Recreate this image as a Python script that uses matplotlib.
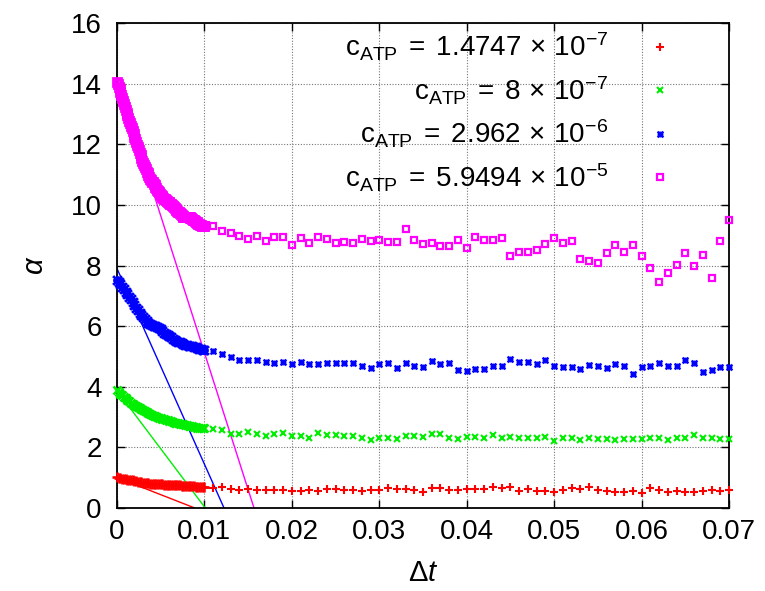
import numpy as np
import matplotlib
matplotlib.use("Agg")
import matplotlib.pyplot as plt
from matplotlib.path import Path

plt.rcParams['font.family'] = ['Liberation Sans', 'DejaVu Sans']
plt.rcParams['mathtext.fontset'] = 'custom'
plt.rcParams['mathtext.rm'] = 'Liberation Sans'
plt.rcParams['mathtext.it'] = 'Liberation Sans:italic'

# ---- data ----
labels = [r"$\mathregular{c_{ATP}\;=\;1.4747\,\times\,10^{-7}}$",
          r"$\mathregular{c_{ATP}\;=\;8\,\times\,10^{-7}}$",
          r"$\mathregular{c_{ATP}\;=\;2.962\,\times\,10^{-6}}$",
          r"$\mathregular{c_{ATP}\;=\;5.9494\,\times\,10^{-5}}$"]
colors = ['#ff0000', '#00ee00', '#0000ff', '#ff00ff']

dt_dense = np.linspace(0.0, 0.010, 51)
dt_dense_fine = np.linspace(0.0, 0.010, 101)
dt_sparse = np.linspace(0.011, 0.070, 60)

red_dense = [1.01, 1.00, 0.99, 0.97, 0.96, 0.95, 0.94, 0.93, 0.92, 0.91,
             0.90, 0.89, 0.87, 0.86, 0.85, 0.84, 0.83, 0.82, 0.81, 0.80,
             0.79, 0.80, 0.79, 0.78, 0.79, 0.79, 0.78, 0.77, 0.77, 0.76,
             0.76, 0.77, 0.76, 0.76, 0.75, 0.76, 0.75, 0.74, 0.74, 0.73,
             0.73, 0.72, 0.72, 0.71, 0.71, 0.70, 0.70, 0.69, 0.69, 0.68, 0.68]
green_dense = [3.89, 3.83, 3.77, 3.72, 3.67, 3.62, 3.57, 3.53, 3.48, 3.44,
               3.40, 3.37, 3.33, 3.30, 3.26, 3.23, 3.20, 3.17, 3.13, 3.10,
               3.07, 3.05, 3.03, 3.00, 2.98, 2.96, 2.94, 2.93, 2.91, 2.90,
               2.88, 2.86, 2.84, 2.82, 2.81, 2.79, 2.78, 2.77, 2.76, 2.75,
               2.74, 2.72, 2.70, 2.69, 2.67, 2.66, 2.65, 2.64, 2.64, 2.63, 2.63]
blue_dense = [7.52, 7.46, 7.38, 7.30, 7.22, 7.14, 7.05, 6.96, 6.88, 6.79,
              6.70, 6.61, 6.52, 6.44, 6.36, 6.29, 6.22, 6.16, 6.11, 6.07,
              6.04, 6.02, 5.99, 5.96, 5.93, 5.89, 5.84, 5.78, 5.73, 5.70,
              5.67, 5.63, 5.59, 5.55, 5.52, 5.49, 5.46, 5.43, 5.41, 5.39,
              5.38, 5.36, 5.35, 5.33, 5.31, 5.30, 5.28, 5.26, 5.24, 5.22, 5.21]
magenta_dense = [14.05, 14.00, 13.90, 13.82, 13.72, 13.63, 13.52, 13.44, 13.33, 13.22,
                 13.13, 13.04, 12.95, 12.86, 12.78, 12.69, 12.60, 12.52, 12.43, 12.34,
                 12.25, 12.16, 12.08, 11.98, 11.90, 11.81, 11.72, 11.64, 11.55, 11.46,
                 11.37, 11.30, 11.24, 11.17, 11.10, 11.04, 10.98, 10.93, 10.87, 10.82,
                 10.77, 10.74, 10.70, 10.64, 10.59, 10.55, 10.50, 10.45, 10.41, 10.37,
                 10.33, 10.30, 10.27, 10.24, 10.21, 10.18, 10.16, 10.14, 10.11, 10.09,
                 10.07, 10.04, 10.02, 9.99, 9.97, 9.94, 9.91, 9.88, 9.84, 9.81,
                 9.78, 9.75, 9.72, 9.69, 9.66, 9.63, 9.61, 9.60, 9.60, 9.59,
                 9.59, 9.60, 9.60, 9.59, 9.57, 9.56, 9.53, 9.51, 9.49, 9.47,
                 9.45, 9.42, 9.40, 9.38, 9.36, 9.34, 9.32, 9.31, 9.30, 9.31, 9.31]

red_sparse = [0.67, 0.68, 0.62, 0.59, 0.64, 0.59, 0.61, 0.59, 0.59, 0.56,
              0.56, 0.58, 0.57, 0.63, 0.62, 0.61, 0.61, 0.56, 0.61, 0.61,
              0.65, 0.62, 0.63, 0.59, 0.52, 0.67, 0.66, 0.59, 0.59, 0.63,
              0.63, 0.63, 0.69, 0.65, 0.69, 0.55, 0.62, 0.55, 0.55, 0.54,
              0.59, 0.65, 0.63, 0.69, 0.58, 0.55, 0.52, 0.52, 0.57, 0.50,
              0.67, 0.59, 0.52, 0.57, 0.54, 0.53, 0.57, 0.59, 0.57, 0.59]
green_sparse = [2.60, 2.56, 2.45, 2.45, 2.51, 2.43, 2.36, 2.44, 2.46, 2.36,
                2.36, 2.30, 2.46, 2.41, 2.40, 2.38, 2.38, 2.30, 2.25, 2.30,
                2.32, 2.28, 2.38, 2.38, 2.33, 2.44, 2.44, 2.30, 2.27, 2.35,
                2.33, 2.30, 2.40, 2.32, 2.33, 2.32, 2.31, 2.31, 2.33, 2.22,
                2.30, 2.30, 2.24, 2.32, 2.29, 2.29, 2.23, 2.27, 2.27, 2.28,
                2.30, 2.30, 2.25, 2.31, 2.32, 2.40, 2.32, 2.32, 2.27, 2.28]
blue_sparse = [5.18, 5.07, 4.99, 4.87, 4.88, 4.88, 4.83, 4.77, 4.82, 4.75,
               4.82, 4.75, 4.76, 4.79, 4.79, 4.79, 4.79, 4.70, 4.63, 4.74,
               4.78, 4.62, 4.77, 4.67, 4.65, 4.84, 4.76, 4.79, 4.55, 4.51,
               4.59, 4.60, 4.68, 4.70, 4.92, 4.81, 4.81, 4.74, 4.87, 4.67,
               4.64, 4.64, 4.60, 4.73, 4.68, 4.61, 4.75, 4.68, 4.42, 4.64,
               4.68, 4.79, 4.67, 4.67, 4.88, 4.78, 4.49, 4.55, 4.66, 4.65]
magenta_sparse = [9.30, 9.14, 9.07, 8.96, 8.86, 8.98, 8.81, 8.94, 8.93, 8.69,
                  8.91, 8.73, 8.93, 8.88, 8.74, 8.79, 8.75, 8.86, 8.81, 8.84,
                  8.78, 8.78, 9.20, 8.84, 8.71, 8.75, 8.65, 8.64, 8.83, 8.57,
                  8.95, 8.84, 8.85, 8.92, 8.31, 8.45, 8.45, 8.50, 8.70, 8.92,
                  8.75, 8.82, 8.20, 8.15, 8.08, 8.42, 8.68, 8.45, 8.68, 8.32,
                  7.91, 7.47, 7.76, 8.01, 8.42, 7.97, 8.35, 7.60, 8.81, 9.49]

# fitted lines: alpha(0) and zero crossing
fit_alpha0 = [1.005, 3.87, 7.90, 14.16]
fit_zero = [0.0089, 0.0101, 0.01224, 0.01567]

xticks = [0, 0.01, 0.02, 0.03, 0.04, 0.05, 0.06, 0.07]
xticklabels = ['0', '0.01', '0.02', '0.03', '0.04', '0.05', '0.06', '0.07']
yticks = [0, 2, 4, 6, 8, 10, 12, 14, 16]

# ---- figure ----
fig = plt.figure(figsize=(7.65, 5.91), dpi=100)
ax = fig.add_axes([117/765, 1-508/591, (729-117)/765, (508-23)/591])

star = Path([(-1, 0), (1, 0), (0, -1), (0, 1), (-1, -1), (1, 1), (-1, 1), (1, -1)],
            [Path.MOVETO, Path.LINETO, Path.MOVETO, Path.LINETO,
             Path.MOVETO, Path.LINETO, Path.MOVETO, Path.LINETO])

dense_x = [dt_dense, dt_dense, dt_dense, dt_dense_fine]
dense = [red_dense, green_dense, blue_dense, magenta_dense]
sparse = [red_sparse, green_sparse, blue_sparse, magenta_sparse]
mstyles = [dict(marker='+', ms=5.5, mew=1.5),
           dict(marker='x', ms=4.2, mew=1.5),
           dict(marker=star, ms=4.2, mew=1.6),
           dict(marker='s', ms=4.6, mew=1.6, mfc='none')]
dense_scale = [1.3, 1.5, 1.5, 1.35]

handles = []
for i in range(4):
    c = colors[i]
    st = dict(mstyles[i])
    ms = st.pop('ms')
    mew = st.pop('mew')
    # dense early-time samples (overlapping markers form a thick band)
    ax.plot(dense_x[i], dense[i], ls='none', color=c, mec=c, ms=ms * dense_scale[i],
            mew=mew * 1.25, clip_on=False, zorder=3, **st)
    h, = ax.plot(dt_sparse, sparse[i], ls='none', color=c, mec=c, ms=ms, mew=mew,
                 clip_on=False, zorder=3, **st)
    handles.append(h)
    ax.plot([0, fit_zero[i]], [fit_alpha0[i], 0], color=c, lw=1.0, zorder=2)

ax.set_xlim(0, 0.07)
ax.set_ylim(0, 16)
ax.set_xticks(xticks)
ax.set_xticklabels(xticklabels)
ax.set_yticks(yticks)
ax.grid(True, color='#777777', ls=(0, (1, 1.5)), lw=0.8)
ax.tick_params(direction='in', length=6, width=1, top=True, right=True,
               labelsize=20, colors='black')
ax.tick_params(axis='x', pad=8)
ax.tick_params(axis='y', pad=11)
for s in ax.spines.values():
    s.set_linewidth(1.3)

ax.set_xlabel(r'$\Delta t$', fontsize=21, labelpad=10)
ax.set_ylabel(r'$\alpha$', fontsize=21, labelpad=16, rotation=90)

leg = ax.legend(handles, labels, loc='upper right', frameon=False, markerfirst=False,
                fontsize=20, numpoints=1, handlelength=1.0, handletextpad=1.37,
                labelspacing=0.40, borderaxespad=0.0, borderpad=0.0,
                bbox_to_anchor=((673.9 - 117) / 612, (508 - 31) / 485))

fig.savefig('out.png', dpi=100)
